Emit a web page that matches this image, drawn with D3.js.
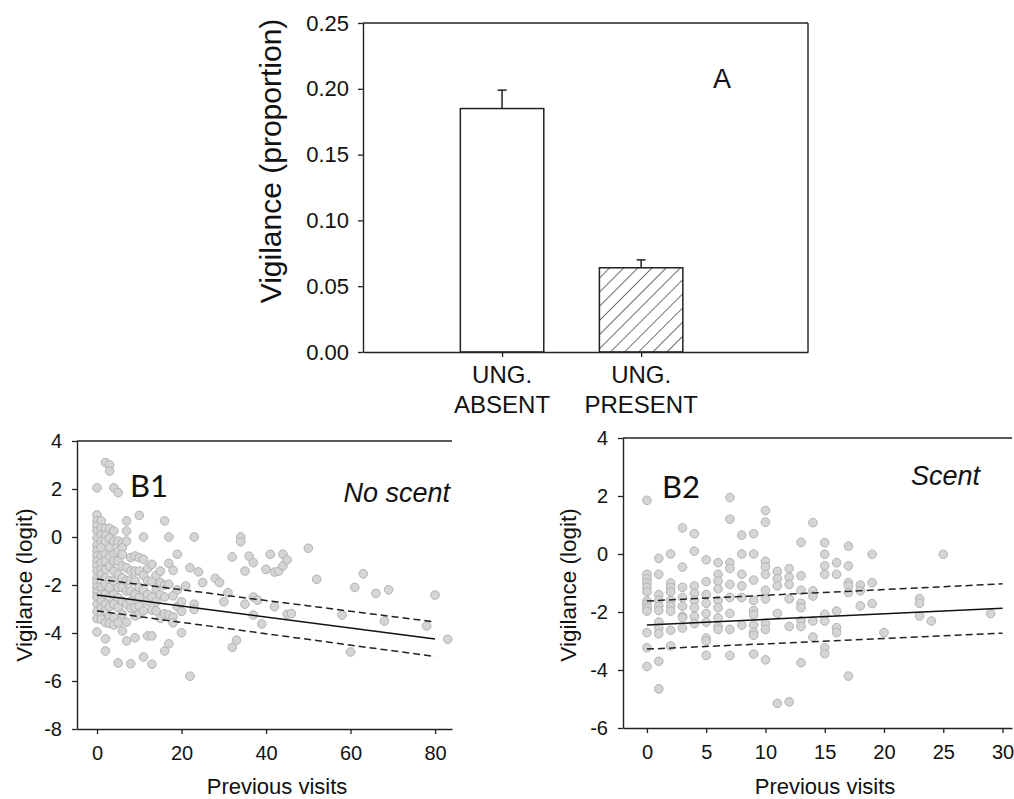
<!DOCTYPE html>
<html><head><meta charset="utf-8">
<script src="https://cdn.jsdelivr.net/npm/d3@7"></script>
<style>
body{margin:0;background:#fff}
svg{display:block}
text{font-family:"Liberation Sans",Arial,sans-serif;fill:#111}
</style>
</head><body><svg id="c" width="1014" height="799"></svg>
<script>
// ---------- Panel A data ----------
const barCategories = [["UNG.", "ABSENT"], ["UNG.", "PRESENT"]];
const barValues = [0.185, 0.064];
const barErrors = [0.014, 0.006];
const barHatched = [false, true];
const aYTicks = [0, 0.05, 0.10, 0.15, 0.20, 0.25];

// ---------- Panel B1 data (No scent): [visits, [vigilance logit values]] ----------
const b1Columns = [
  [0, [2.05, 0.92, 0.67, 0.46, 0.25, -0.04, -0.33, -0.58, -0.79, -1.0, -1.21, -1.42, -1.7, -1.9, -2.1, -2.3, -2.5, -2.8, -3.1, -3.4, -3.96]],
  [1, [0.67, 0.36, 0.1, -0.17, -0.45, -0.79, -1.07, -1.35, -1.56, -1.83, -2.1, -2.39, -2.67, -2.95, -3.22, -3.43]],
  [2, [3.1, 0.36, 0.07, -0.17, -0.73, -1.0, -1.35, -1.7, -1.97, -2.39, -2.8, -3.08, -3.57, -4.24, -4.75]],
  [3, [3.0, 2.75, 0.36, -0.04, -0.45, -0.79, -1.21, -1.83, -2.1, -2.5, -2.9, -3.3, -3.6]],
  [4, [2.05, 0.25, -0.17, -0.72, -1.0, -1.42, -1.83, -2.39, -2.8, -3.36, -3.67]],
  [5, [1.85, -0.17, -0.58, -1.0, -1.56, -2.1, -2.53, -2.95, -3.57, -5.25]],
  [6, [-0.24, -0.45, -0.73, -1.21, -1.7, -2.1, -2.67, -3.22, -3.92]],
  [7, [0.67, 0.25, -0.17, -1.28, -1.83, -2.25, -2.8, -3.55, -4.33]],
  [8, [-0.86, -1.42, -1.83, -2.25, -2.67, -2.97, -5.28]],
  [9, [-0.79, -1.42, -1.83, -2.39, -2.94, -3.29, -4.2]],
  [10, [0.9, -0.86, -1.42, -2.1, -2.53, -2.87, -3.22]],
  [11, [0.0, -0.93, -1.6, -2.2, -3.08, -5.0]],
  [12, [-1.3, -1.83, -2.4, -2.7, -4.12]],
  [13, [-1.14, -1.85, -2.5, -3.05, -4.12, -5.3]],
  [14, [-1.6, -2.2, -2.7, -3.08]],
  [15, [-1.42, -1.9, -2.4, -3.39]],
  [16, [0.67, -2.0, -2.5, -3.2, -4.75]],
  [17, [0.0, -1.1, -1.97, -3.25, -4.45]],
  [18, [-1.39, -2.45, -3.33, -3.57]],
  [19, [-0.72, -2.2, -2.9]],
  [20, [-2.7, -3.1, -3.99]],
  [21, [-2.04]],
  [22, [-1.28, -5.8]],
  [23, [0.0, -2.8, -3.02]],
  [24, [-1.45]],
  [25, [-1.9]],
  [28, [-1.72]],
  [29, [-1.9]],
  [30, [-2.7]],
  [31, [-2.32]],
  [32, [-0.83, -4.6]],
  [33, [-4.3]],
  [34, [0.0, -0.2]],
  [35, [-1.42, -2.8]],
  [36, [-0.8]],
  [37, [-1.07, -2.5, -3.25]],
  [38, [-2.63]],
  [39, [-3.62]],
  [40, [-1.35]],
  [41, [-0.72]],
  [42, [-1.46, -2.9]],
  [43, [-1.42]],
  [44, [-0.72, -1.2]],
  [45, [-0.95, -3.22]],
  [46, [-3.19]],
  [50, [-0.47]],
  [52, [-1.76]],
  [58, [-3.25]],
  [60, [-4.79]],
  [61, [-2.1]],
  [63, [-1.53]],
  [66, [-2.35]],
  [68, [-3.5]],
  [69, [-2.2]],
  [78, [-3.71]],
  [80, [-2.42]],
  [83, [-4.26]]
];
const b1FitX = [0, 80];
const b1FitMean = [-2.42, -4.25];
const b1FitUpper = [-1.75, -3.54];
const b1FitLower = [-3.08, -4.98];
const b1XTicks = [0, 20, 40, 60, 80];
const b1YTicks = [-8, -6, -4, -2, 0, 2, 4];

// ---------- Panel B2 data (Scent) ----------
const b2Columns = [
  [0, [1.85, -0.7, -0.85, -1.0, -1.15, -1.3, -1.62, -1.73, -1.85, -1.97, -2.71, -3.23, -3.88]],
  [1, [-0.15, -0.7, -1.4, -1.6, -1.8, -1.95, -2.35, -2.55, -2.75, -3.7, -4.65]],
  [2, [0.0, -1.0, -1.15, -1.3, -1.6, -1.8, -1.97, -2.63, -3.17]],
  [3, [0.9, -0.45, -1.15, -1.5, -1.8, -2.15, -2.2, -2.55]],
  [4, [0.7, 0.1, -1.1, -1.35, -1.6, -1.85, -2.15, -2.4]],
  [5, [-0.2, -0.95, -1.4, -1.7, -2.05, -2.35, -2.9, -3.0, -3.5]],
  [6, [-0.3, -0.7, -0.93, -1.2, -1.6, -1.85, -2.2, -2.5, -2.6]],
  [7, [1.95, 1.2, -0.3, -0.5, -1.05, -1.5, -2.05, -2.6, -3.5]],
  [8, [0.65, 0.0, -0.7, -1.1, -1.5, -2.45]],
  [9, [0.7, 0.0, -0.9, -1.6, -1.95, -2.1, -2.45, -2.7, -2.8, -3.45]],
  [10, [1.5, 1.1, -0.25, -0.45, -0.7, -1.25, -1.55, -2.4, -2.6, -3.65]],
  [11, [-0.6, -0.85, -1.1, -2.05, -5.15]],
  [12, [-0.5, -0.8, -1.05, -1.55, -2.5, -5.1]],
  [13, [0.4, -0.75, -1.25, -1.7, -1.85, -2.3, -2.5, -3.75]],
  [14, [1.08, -1.27, -1.45, -2.31, -2.86]],
  [15, [0.39, -0.01, -0.41, -0.7, -2.08, -2.31, -3.23, -3.44]],
  [16, [-0.3, -0.7, -1.97, -2.54, -2.71]],
  [17, [0.27, -0.41, -0.99, -1.1, -1.33, -4.21]],
  [18, [-1.07, -1.27, -1.79]],
  [19, [-0.01, -0.99, -1.71]],
  [20, [-2.71]],
  [23, [-1.54, -1.7, -2.14]],
  [24, [-2.31]],
  [25, [-0.01]],
  [29, [-2.05]]
];
const b2FitX = [0, 30];
const b2FitMean = [-2.45, -1.87];
const b2FitUpper = [-1.62, -1.03];
const b2FitLower = [-3.28, -2.73];
const b2XTicks = [0, 5, 10, 15, 20, 25, 30];
const b2YTicks = [-6, -4, -2, 0, 2, 4];

// ---------- drawing ----------
const svg = d3.select("#c");
const AX = "#222";
const defs = svg.append("defs");
const pat = defs.append("pattern").attr("id", "hatch")
  .attr("patternUnits", "userSpaceOnUse").attr("width", 10).attr("height", 10)
  .attr("patternTransform", "rotate(45)");
pat.append("rect").attr("width", 10).attr("height", 10).attr("fill", "#fff");
pat.append("line").attr("x1", 0).attr("y1", 0).attr("x2", 0).attr("y2", 10)
  .attr("stroke", "#222").attr("stroke-width", 1.3);

function styleAxis(g, fs) {
  g.select(".domain").attr("stroke", AX).attr("stroke-width", 1.4);
  g.selectAll(".tick line").attr("stroke", AX).attr("stroke-width", 1.3);
  g.selectAll(".tick text").attr("font-size", fs).attr("fill", "#111")
    .attr("font-family", '"Liberation Sans", Arial, sans-serif');
}

// Panel A
const xA = d3.scaleLinear().domain([0, 3.2]).range([363, 808]);
const yA = d3.scaleLinear().domain([0, 0.25]).range([352, 23]);
const gA = svg.append("g");
const barW = 0.6;
gA.selectAll("rect.bar").data(barValues).join("rect").attr("class", "bar")
  .attr("x", (d, i) => xA(i + 1 - barW / 2))
  .attr("width", xA(barW) - xA(0))
  .attr("y", d => yA(d))
  .attr("height", d => yA(0) - yA(d))
  .attr("fill", (d, i) => barHatched[i] ? "url(#hatch)" : "#fff")
  .attr("stroke", "#222").attr("stroke-width", 1.5);
gA.selectAll("line.err").data(barValues).join("line").attr("class", "err")
  .attr("x1", (d, i) => xA(i + 1)).attr("x2", (d, i) => xA(i + 1))
  .attr("y1", d => yA(d)).attr("y2", (d, i) => yA(d + barErrors[i]))
  .attr("stroke", "#222").attr("stroke-width", 1.5);
gA.selectAll("line.cap").data(barValues).join("line").attr("class", "cap")
  .attr("x1", (d, i) => xA(i + 1) - 4.5).attr("x2", (d, i) => xA(i + 1) + 4.5)
  .attr("y1", (d, i) => yA(d + barErrors[i])).attr("y2", (d, i) => yA(d + barErrors[i]))
  .attr("stroke", "#222").attr("stroke-width", 1.5);

const gAy = gA.append("g").attr("transform", `translate(${xA.range()[0]},0)`)
  .call(d3.axisLeft(yA).tickValues(aYTicks).tickFormat(d3.format(".2f")).tickSize(5).tickSizeOuter(0).tickPadding(9));
styleAxis(gAy, 22);
const gAx = gA.append("g").attr("transform", `translate(0,${yA(0)})`)
  .call(d3.axisBottom(xA).tickValues(barValues.map((d, i) => i + 1)).tickFormat("").tickSize(5).tickSizeOuter(0));
styleAxis(gAx, 22);
// frame
gA.append("line").attr("x1", xA.range()[0]).attr("x2", xA.range()[1]).attr("y1", yA(0.25)).attr("y2", yA(0.25))
  .attr("stroke", AX).attr("stroke-width", 1.4);
gA.append("line").attr("x1", xA.range()[1]).attr("x2", xA.range()[1]).attr("y1", yA(0.25)).attr("y2", yA(0))
  .attr("stroke", AX).attr("stroke-width", 1.4);
// category labels
barCategories.forEach((lines, i) => {
  lines.forEach((t, j) => {
    gA.append("text").attr("x", xA(i + 1)).attr("y", 383 + j * 30)
      .attr("text-anchor", "middle").attr("font-size", 24).text(t);
  });
});
gA.append("text").attr("transform", "translate(281,161) rotate(-90)")
  .attr("text-anchor", "middle").attr("font-size", 30).text("Vigilance (proportion)");
gA.append("text").attr("x", 722).attr("y", 88).attr("text-anchor", "middle")
  .attr("font-size", 27).text("A");

// Scatter panels
function scatterPanel(cfg) {
  const g = svg.append("g");
  const x = d3.scaleLinear().domain(cfg.xDomain).range(cfg.xRange);
  const y = d3.scaleLinear().domain(cfg.yDomain).range(cfg.yRange);
  const pts = cfg.columns.flatMap(([vx, ys]) => ys.map(vy => [vx, vy]));
  g.selectAll("circle").data(pts).join("circle")
    .attr("cx", d => x(d[0])).attr("cy", d => y(d[1])).attr("r", 4.3)
    .attr("fill", "#d5d5d5").attr("stroke", "#b2b2b2").attr("stroke-width", 1);
  const line = d3.line().x(d => x(d[0])).y(d => y(d[1]));
  const mk = arr => cfg.fitX.map((v, i) => [v, arr[i]]);
  g.append("path").attr("d", line(mk(cfg.fitMean))).attr("fill", "none")
    .attr("stroke", "#111").attr("stroke-width", 1.5);
  [cfg.fitUpper, cfg.fitLower].forEach(a => {
    g.append("path").attr("d", line(mk(a))).attr("fill", "none")
      .attr("stroke", "#222").attr("stroke-width", 1.5).attr("stroke-dasharray", "7,4");
  });
  const gx = g.append("g").attr("transform", `translate(0,${cfg.yRange[0]})`)
    .call(d3.axisBottom(x).tickValues(cfg.xTicks).tickSize(5).tickSizeOuter(0).tickPadding(12));
  styleAxis(gx, 20);
  const gy = g.append("g").attr("transform", `translate(${cfg.xRange[0]},0)`)
    .call(d3.axisLeft(y).tickValues(cfg.yTicks).tickSize(5).tickSizeOuter(0).tickPadding(10));
  styleAxis(gy, 20);
  gy.selectAll(".tick text").text(d => d < 0 ? "-" + Math.abs(d) : d);
  g.append("line").attr("x1", cfg.xRange[0]).attr("x2", cfg.xRange[1])
    .attr("y1", cfg.yRange[1]).attr("y2", cfg.yRange[1]).attr("stroke", AX).attr("stroke-width", 1.4);
  g.append("text").attr("transform", `translate(${cfg.yTitleX},585) rotate(-90)`)
    .attr("text-anchor", "middle").attr("dominant-baseline", "central")
    .attr("font-size", 22.5).text("Vigilance (logit)");
  g.append("text").attr("x", cfg.xTitleX).attr("y", 794).attr("text-anchor", "middle")
    .attr("font-size", 22).text("Previous visits");
  g.append("text").attr("x", cfg.labelX).attr("y", cfg.labelY)
    .attr("font-family", "Lato, 'Open Sans', sans-serif").style("font-family", "Lato, 'Open Sans', sans-serif")
    .attr("font-size", 31).text(cfg.label);
  g.append("text").attr("x", cfg.condX).attr("y", cfg.condY).attr("text-anchor", "end")
    .attr("font-style", "italic").attr("font-size", 27).text(cfg.cond);
}

scatterPanel({
  columns: b1Columns, fitX: b1FitX, fitMean: b1FitMean, fitUpper: b1FitUpper, fitLower: b1FitLower,
  xDomain: [-4.73, 84], xRange: [77, 452], yDomain: [-8, 4], yRange: [729, 441],
  xTicks: b1XTicks, yTicks: b1YTicks, yTitleX: 24, xTitleX: 277,
  label: "B1", labelX: 130, labelY: 497, cond: "No scent", condX: 450, condY: 502
});
scatterPanel({
  columns: b2Columns, fitX: b2FitX, fitMean: b2FitMean, fitUpper: b2FitUpper, fitLower: b2FitLower,
  xDomain: [-2.02, 30.8], xRange: [623, 1012], yDomain: [-6, 4], yRange: [728, 438],
  xTicks: b2XTicks, yTicks: b2YTicks, yTitleX: 568, xTitleX: 825,
  label: "B2", labelX: 662, labelY: 498, cond: "Scent", condX: 980, condY: 485
});
</script>
</body></html>
